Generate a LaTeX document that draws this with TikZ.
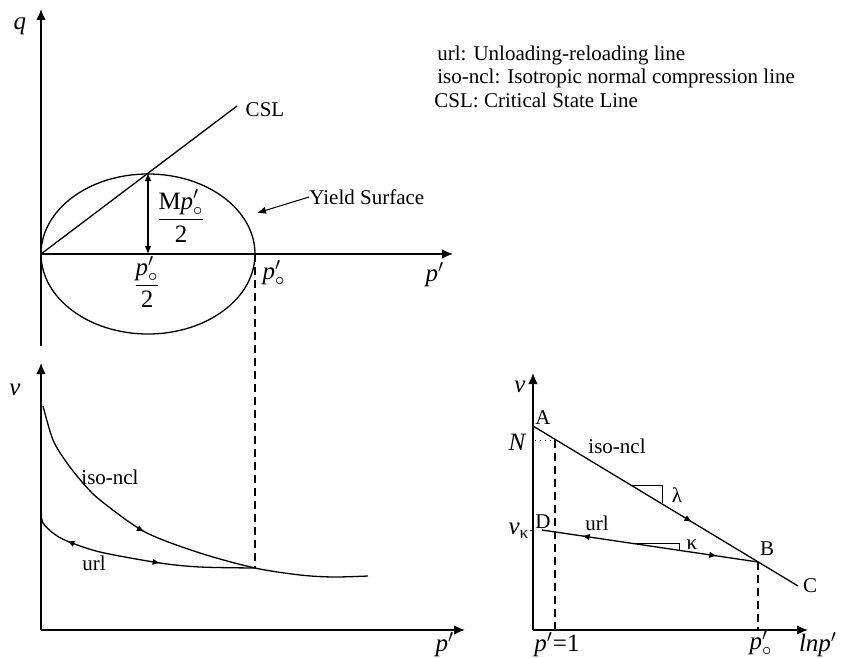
\documentclass[tikz,border=0pt]{standalone}
\usepackage{amsmath}
\usepackage{fontspec}
\setmainfont{Liberation Serif}
\usetikzlibrary{arrows.meta,positioning,decorations.markings}

\begin{document}
\begin{tikzpicture}[x=0.5pt, y=-0.5pt,
  axis/.style={-{Latex[length=5.5pt, width=4.8pt]}, line width=0.8pt},
  crv/.style={line width=0.65pt},
  thin/.style={line width=0.5pt},
  drop/.style={line width=0.9pt, dash pattern=on 4pt off 2.5pt},
  lbl/.style={font=\fontsize{10.5}{12}\selectfont, inner sep=0pt},
  frac/.style={font=\fontsize{12.5}{14}\selectfont, inner sep=0pt},
  var/.style={font=\fontsize{12.5}{14}\selectfont\itshape, inner sep=0pt},
  fwd/.style={postaction={decorate, decoration={markings,
      mark=at position #1 with {\arrow{Latex[length=3.8pt, width=3.2pt]}}}}},
  bwd/.style={postaction={decorate, decoration={markings,
      mark=at position #1 with {\arrowreversed{Latex[length=3.8pt, width=3.2pt]}}}}}]
\useasboundingbox (0,0) rectangle (851,658);

% q-p' plane
\coordinate (o1) at (41,254);
\coordinate (qbot) at (41,346);
\coordinate (qtop) at (41,9);
\coordinate (p1end) at (453,254);
\coordinate (apex) at (148,173);
\coordinate (apexfoot) at (148,254);
\coordinate (cslend) at (237,106);
\coordinate (po) at (255,254);
\coordinate (ystip) at (257,213);
\draw[axis] (qbot) -- (qtop);
\draw[axis] (o1) -- (p1end);
\draw[crv] (148,254) ellipse [x radius=53.5pt, y radius=40pt];
\draw[crv] (o1) -- (cslend);
\draw[{Latex[length=4pt, width=3.4pt]}-{Latex[length=4pt, width=3.4pt]}, crv] (apex) -- (apexfoot);
\node[var] (q) at (20,26) {q};
\node[var] (p1) at (435,275) {p$'$};
\node[lbl] (csl) at (265,110) {CSL};
\node[frac] (mfrac) at (181,216) {$\dfrac{\text{M\textit{p}}'_{\circ}}{\text{2}}$};
\node[frac] (hfrac) at (147,282) {$\dfrac{\text{\textit{p}}'_{\circ}}{\text{2}}$};
\node[frac] (poq) at (274,273) {\textit{p}$'_{\circ}$};
\node[lbl, anchor=west] (ys) at (309,197) {Yield Surface};
\draw[-{Latex[length=4.5pt, width=3.6pt]}, thin] (ys.west) -- (ystip);

\node[lbl, anchor=west] (leg1) at (437,55) {url: Unloading-reloading line};
\node[lbl, anchor=west] (leg2) at (437,78) {iso-ncl: Isotropic normal compression line};
\node[lbl, anchor=west] (leg3) at (434,100) {CSL: Critical State Line};

% v-p' plane
\coordinate (o2) at (41,630);
\coordinate (vtop) at (41,363);
\coordinate (p2end) at (465,630);
\coordinate (bleft) at (255,568);
\draw[axis] (o2) -- (vtop);
\draw[axis] (o2) -- (p2end);
\draw[drop] (po) -- (bleft);
\draw[crv, fwd=0.42] plot[smooth] coordinates {(43,406) (53,440) (67,463) (83,483) (100,500)
  (145,532) (200,553) (255,568) (300,575) (333,577) (368,576)};
\draw[crv, bwd=0.175, fwd=0.59] plot[smooth] coordinates {(41,513) (43,523) (53,533) (67,541)
  (100,552) (160,563) (200,567) (255,568)};
\node[var] (v2) at (15,390) {v};
\node[var] (p2) at (445,645) {p$'$};
\node[lbl] (iso2) at (110,477) {iso-ncl};
\node[lbl] (url2) at (94,563) {url};

% v-lnp' plane
\coordinate (o3) at (533,630);
\coordinate (v3top) at (533,373);
\coordinate (lnend) at (808,630);
\coordinate (ptA) at (533,426);
\coordinate (ptC) at (798,586);
\coordinate (ptB) at (758,562);
\coordinate (ptD) at (542,530);
\coordinate (ptN) at (555,440);
\coordinate (nax) at (535,440);
\coordinate (one) at (555,630);
\coordinate (pob) at (758,630);
\draw[axis] (o3) -- (v3top);
\draw[axis] (o3) -- (lnend);
\draw[crv, fwd=0.6] (ptA) -- (ptC);
\draw[crv, bwd=0.185, fwd=0.81] (ptD) -- (ptB);
\draw[thin, dotted] (nax) -- (ptN);
\draw[drop] (ptN) -- (one);
\draw[drop] (ptB) -- (pob);
\draw[thin] (530,530) -- (533,530);
\draw[thin] (632,485) -- (662,485) -- (662,503);
\draw[thin] (632,543) -- (679,543) -- (679,550);
\node[var] (v3) at (520,387) {v};
\node[lbl] (lA) at (543,418) {A};
\node[var] (lN) at (517,442) {N};
\node[lbl] (iso3) at (617,446) {iso-ncl};
\node[lbl] (lam) at (677,495) {λ};
\node[lbl] (lD) at (543,522) {D};
\node[lbl] (url3) at (597,523) {url};
\node[lbl] (kap) at (692,545) {κ};
\node[lbl] (lB) at (767,549) {B};
\node[lbl] (lC) at (810,586) {C};
\node[lbl] (vk) at (519,531) {\fontsize{12.5}{14}\selectfont\textit{v}\textsubscript{κ}};
\node[frac] (pone) at (557,645) {\textit{p}$'$=1};
\node[frac] (por) at (761,643) {\textit{p}$'_{\circ}$};
\node[frac] (lnp) at (818,645) {\textit{lnp}$'$};
\end{tikzpicture}
\end{document}
